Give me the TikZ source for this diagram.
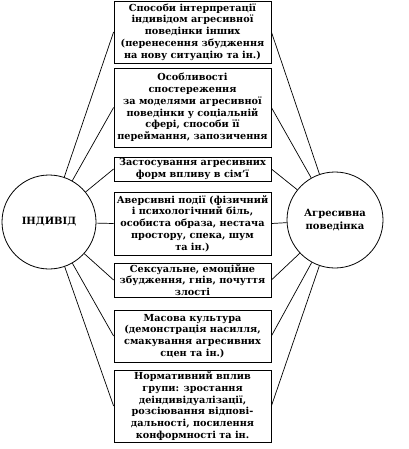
\documentclass[tikz,border=0pt]{standalone}
\usepackage{fontspec}
\setmainfont{DejaVu Serif}
\usepackage{tikz}

\begin{document}
\begin{tikzpicture}[x=1pt,y=-1pt,
		factor/.style={draw,line width=0.8pt,align=center,inner sep=0.5pt,
			minimum width=157pt,font=\bfseries\fontsize{9.7}{11.8}\selectfont},
		party/.style={draw,circle,line width=0.8pt,align=center,
			font=\bfseries\fontsize{10}{12.5}\selectfont},
		link/.style={line width=0.7pt}]
	\useasboundingbox (0,0) rectangle (408,449);
	\node[party,minimum size=94pt] (indiv) at (49,222) {ІНДИВІД};
	\node[party,minimum size=96pt] (aggr) at (335,220) {Агресивна\\поведінка};
	\node[factor,minimum height=62pt] (interp) at (192.5,32)
		{Способи інтерпретації\\індивідом агресивної\\поведінки інших\\(перенесення збудження\\на нову ситуацію та ін.)};
	\node[factor,minimum height=79pt] (observ) at (192.5,107.5)
		{Особливості\\спостереження\\за моделями агресивної\\поведінки у соціальній\\сфері, способи її\\переймання, запозичення};
	\node[factor,minimum height=24pt] (family) at (192.5,169)
		{Застосування агресивних\\форм впливу в сім’ї};
	\node[factor,minimum height=63pt] (avers) at (192.5,223.5)
		{Аверсивні події (фізичний\\і психологічний біль,\\особиста образа, нестача\\простору, спека, шум\\та ін.)};
	\node[factor,minimum height=34pt] (arous) at (192.5,280)
		{Сексуальне, емоційне\\збудження, гнів, почуття\\злості};
	\node[factor,minimum height=52pt] (media) at (192.5,336)
		{Масова культура\\(демонстрація насилля,\\смакування агресивних\\сцен та ін.)};
	\node[factor,minimum height=72pt] (group) at (192.5,406)
		{Нормативний вплив\\групи: зростання\\деіндивідуалізації,\\розсіювання відпові-\\дальності, посилення\\конформності та ін.};
	% lines from both circles to every box
	\foreach \f in {interp,observ,family,avers,arous,media,group}{
		\draw[link] (indiv) -- (\f.west);
		\draw[link] (aggr) -- (\f.east);
	}
\end{tikzpicture}
\end{document}
